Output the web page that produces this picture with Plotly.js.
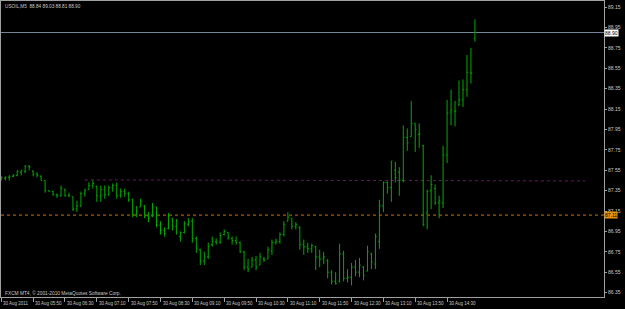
<!DOCTYPE html>
<html>
<head>
<meta charset="utf-8">
<script src="https://cdn.plot.ly/plotly-3.0.1.min.js"></script>
<style>
html,body{margin:0;padding:0;background:#000;}
#chart{width:625px;height:309px;}
</style>
</head>
<body>
<div id="chart"></div>
<script>
// ---- data (USOIL, M5, 30 Aug 2011, bars from 05:10 to 15:05) ----
const symbolTitle = "USOIL,M5  88.84 89.03 88.81 88.90";
const copyright = "FXCM MT4, \u00a9 2001-2010 MetaQuotes Software Corp.";

const openP = [87.46,87.47,87.48,87.49,87.50,87.53,87.54,87.59,87.54,87.51,
87.49,87.45,87.35,87.34,87.31,87.30,87.36,87.30,87.29,87.17,
87.20,87.32,87.36,87.40,87.39,87.30,87.36,87.31,87.38,87.40,
87.30,87.34,87.32,87.26,87.12,87.19,87.20,87.10,87.10,87.19,
87.01,86.96,86.98,87.08,87.00,86.90,86.94,87.02,87.05,86.88,
86.77,86.66,86.70,86.82,86.85,86.84,86.92,86.94,86.88,86.86,
86.84,86.75,86.60,86.60,86.67,86.62,86.68,86.68,86.76,86.84,
86.85,86.92,87.05,87.08,87.00,86.99,86.82,86.80,86.78,86.80,
86.70,86.68,86.66,86.55,86.46,86.46,86.73,86.49,86.50,86.60,
86.55,86.60,86.56,86.73,86.63,86.85,87.20,87.43,87.38,87.55,
87.53,87.45,87.87,87.88,88.01,87.90,87.79,87.13,87.35,87.37,
87.23,87.23,87.70,88.12,88.13,88.19,88.24,88.34,88.51,88.84];
const highP = [87.49,87.49,87.50,87.51,87.55,87.55,87.60,87.60,87.55,87.53,
87.50,87.45,87.35,87.35,87.32,87.40,87.37,87.33,87.29,87.25,
87.34,87.37,87.43,87.45,87.40,87.40,87.40,87.40,87.42,87.43,
87.37,87.37,87.34,87.27,87.20,87.27,87.21,87.14,87.23,87.19,
87.05,86.99,87.13,87.08,87.07,86.95,87.05,87.08,87.08,86.90,
86.78,86.75,86.84,86.90,86.88,86.94,86.97,86.94,86.90,86.90,
86.85,86.76,86.68,86.70,86.71,86.74,86.70,86.80,86.87,86.88,
86.94,87.05,87.14,87.08,87.04,87.00,86.87,86.84,86.83,86.81,
86.77,86.75,86.68,86.57,86.55,86.83,86.76,86.58,86.64,86.67,
86.69,86.61,86.81,86.74,86.93,87.26,87.44,87.44,87.64,87.63,
87.58,87.99,87.96,88.23,88.01,88.01,87.80,87.36,87.50,87.41,
87.30,87.79,88.24,88.34,88.23,88.43,88.44,88.68,88.75,89.03];
const lowP = [87.45,87.45,87.45,87.48,87.49,87.50,87.52,87.55,87.49,87.48,
87.45,87.33,87.34,87.30,87.28,87.29,87.29,87.29,87.15,87.14,
87.19,87.29,87.36,87.37,87.24,87.24,87.27,87.30,87.34,87.27,
87.28,87.29,87.24,87.09,87.09,87.19,87.08,87.04,87.09,86.99,
86.92,86.90,86.97,86.96,86.92,86.85,86.93,87.00,86.84,86.74,
86.62,86.62,86.68,86.80,86.82,86.83,86.91,86.87,86.82,86.82,
86.74,86.57,86.55,86.60,86.57,86.62,86.65,86.68,86.72,86.82,
86.83,86.90,87.05,86.97,86.97,86.77,86.72,86.74,86.74,86.57,
86.60,86.63,86.49,86.43,86.43,86.45,86.46,86.45,86.42,86.51,
86.50,86.47,86.56,86.58,86.58,86.78,87.14,87.32,87.24,87.43,
87.30,87.43,87.74,87.88,87.73,87.77,87.00,86.97,87.17,87.21,
87.08,87.18,87.62,87.99,87.98,88.18,88.17,88.27,88.40,88.81];
const closeP = [87.48,87.48,87.49,87.50,87.54,87.55,87.59,87.58,87.51,87.50,
87.45,87.35,87.34,87.31,87.30,87.37,87.30,87.30,87.17,87.20,
87.32,87.35,87.40,87.42,87.30,87.36,87.31,87.38,87.40,87.30,
87.34,87.32,87.26,87.12,87.15,87.24,87.10,87.08,87.19,87.01,
86.96,86.93,87.10,87.00,87.06,86.94,87.03,87.04,86.88,86.78,
86.66,86.70,86.80,86.85,86.84,86.91,86.95,86.89,86.86,86.84,
86.75,86.60,86.58,86.67,86.60,86.70,86.67,86.77,86.84,86.85,
86.92,87.02,87.09,87.00,87.02,86.82,86.80,86.78,86.81,86.70,
86.68,86.70,86.55,86.46,86.44,86.73,86.49,86.50,86.60,86.55,
86.62,86.52,86.75,86.65,86.90,87.20,87.43,87.38,87.64,87.48,
87.45,87.87,87.82,88.01,87.95,87.91,87.02,87.34,87.41,87.23,
87.25,87.70,88.11,88.14,88.13,88.24,88.34,88.51,88.50,88.90];

const timeTickBars = [0,8,16,24,32,40,48,56,64,72,80,88,96,104,112];
const timeTickLabels = ["30 Aug 2011","30 Aug 05:50","30 Aug 06:30","30 Aug 07:10","30 Aug 07:50",
"30 Aug 08:30","30 Aug 09:10","30 Aug 09:50","30 Aug 10:30","30 Aug 11:10","30 Aug 11:50",
"30 Aug 12:30","30 Aug 13:10","30 Aug 13:50","30 Aug 14:30"];
const priceTicks = [86.35,86.55,86.75,86.95,87.15,87.35,87.55,87.75,87.95,88.15,88.35,88.55,88.75,88.95,89.15];
const priceTickText = ["86.35","86.55","86.75","86.95","87.15","87.35","87.55","87.75","87.95","88.15","88.35","88.55","88.75","88.95","89.15"];

const bidLevel = 88.90, bidText = "88.90";
const orangeLevel = 87.11, orangeText = "87.11";
const trendStartBar = 21, trendEndBar = 146.7;
const trendStartPrice = 87.455, trendEndPrice = 87.445;

// ---- chart ----
const xIdx = openP.map((_, i) => i);
const green = "#00aa00";
const fontFam = "Liberation Sans, Arial, sans-serif";
const txtColor = "#c8c8c8";

const trace = {
  type: "ohlc",
  x: xIdx, open: openP, high: highP, low: lowP, close: closeP,
  increasing: {line: {color: green, width: 1}},
  decreasing: {line: {color: green, width: 1}},
  tickwidth: 0.3,
  hoverinfo: "skip"
};

const annotations = timeTickLabels.map((t, k) => ({
  x: timeTickBars[k], xref: "x", y: 0, yref: "paper",
  xanchor: "left", yanchor: "top", xshift: 0, yshift: -2,
  text: t, showarrow: false,
  font: {family: fontFam, size: 4.5, color: txtColor}
}));
annotations.push({
  x: 0, xref: "paper", y: 1, yref: "paper", xanchor: "left", yanchor: "top",
  xshift: 2, yshift: -1, text: symbolTitle, showarrow: false,
  font: {family: fontFam, size: 4.7, color: txtColor}
});
annotations.push({
  x: 0, xref: "paper", y: 0, yref: "paper", xanchor: "left", yanchor: "bottom",
  xshift: 2, yshift: -1, text: copyright, showarrow: false,
  font: {family: fontFam, size: 4.8, color: txtColor}
});
annotations.push({
  x: 1, xref: "paper", y: bidLevel, yref: "y", xanchor: "left", yanchor: "middle",
  xshift: 0, text: bidText, showarrow: false, bgcolor: "#ffffff", borderpad: 0,
  font: {family: fontFam, size: 5, color: "#000000"}
});
annotations.push({
  x: 1, xref: "paper", y: orangeLevel, yref: "y", xanchor: "left", yanchor: "middle",
  xshift: 0, text: orangeText, showarrow: false, bgcolor: "#e8920c", borderpad: 0,
  font: {family: fontFam, size: 5, color: "#000000"}
});

const shapes = [
  {type: "line", xref: "paper", x0: 0, x1: 1, yref: "y", y0: bidLevel, y1: bidLevel,
   line: {color: "#778899", width: 1}, layer: "below"},
  {type: "line", xref: "paper", x0: 0, x1: 1, yref: "y", y0: orangeLevel, y1: orangeLevel,
   line: {color: "#c8740a", width: 1, dash: "dot"}, layer: "below"},
  {type: "line", xref: "x", x0: trendStartBar, x1: trendEndBar, yref: "y",
   y0: trendStartPrice, y1: trendEndPrice,
   line: {color: "#5e1e5e", width: 1, dash: "dot"}, layer: "below"}
];

const layout = {
  width: 625, height: 309,
  paper_bgcolor: "#000000", plot_bgcolor: "#000000",
  margin: {l: 1, r: 21, t: 1, b: 12, pad: 0},
  showlegend: false,
  xaxis: {
    range: [-0.075, 151.43], rangeslider: {visible: false},
    showgrid: false, zeroline: false,
    showline: true, mirror: true, linecolor: "#a0a0a0", linewidth: 1,
    ticks: "outside", ticklen: 4, tickcolor: "#a0a0a0", tickwidth: 1,
    tickmode: "array", tickvals: timeTickBars, showticklabels: false,
    fixedrange: true
  },
  yaxis: {
    side: "right", range: [86.307, 89.209],
    showgrid: false, zeroline: false,
    showline: true, mirror: true, linecolor: "#a0a0a0", linewidth: 1,
    ticks: "outside", ticklen: 2, tickcolor: "#a0a0a0", tickwidth: 1,
    tickmode: "array", tickvals: priceTicks, ticktext: priceTickText,
    tickfont: {family: fontFam, size: 5, color: txtColor},
    fixedrange: true
  },
  annotations: annotations,
  shapes: shapes
};

Plotly.newPlot("chart", [trace], layout, {displayModeBar: false, staticPlot: true});
</script>
</body>
</html>
